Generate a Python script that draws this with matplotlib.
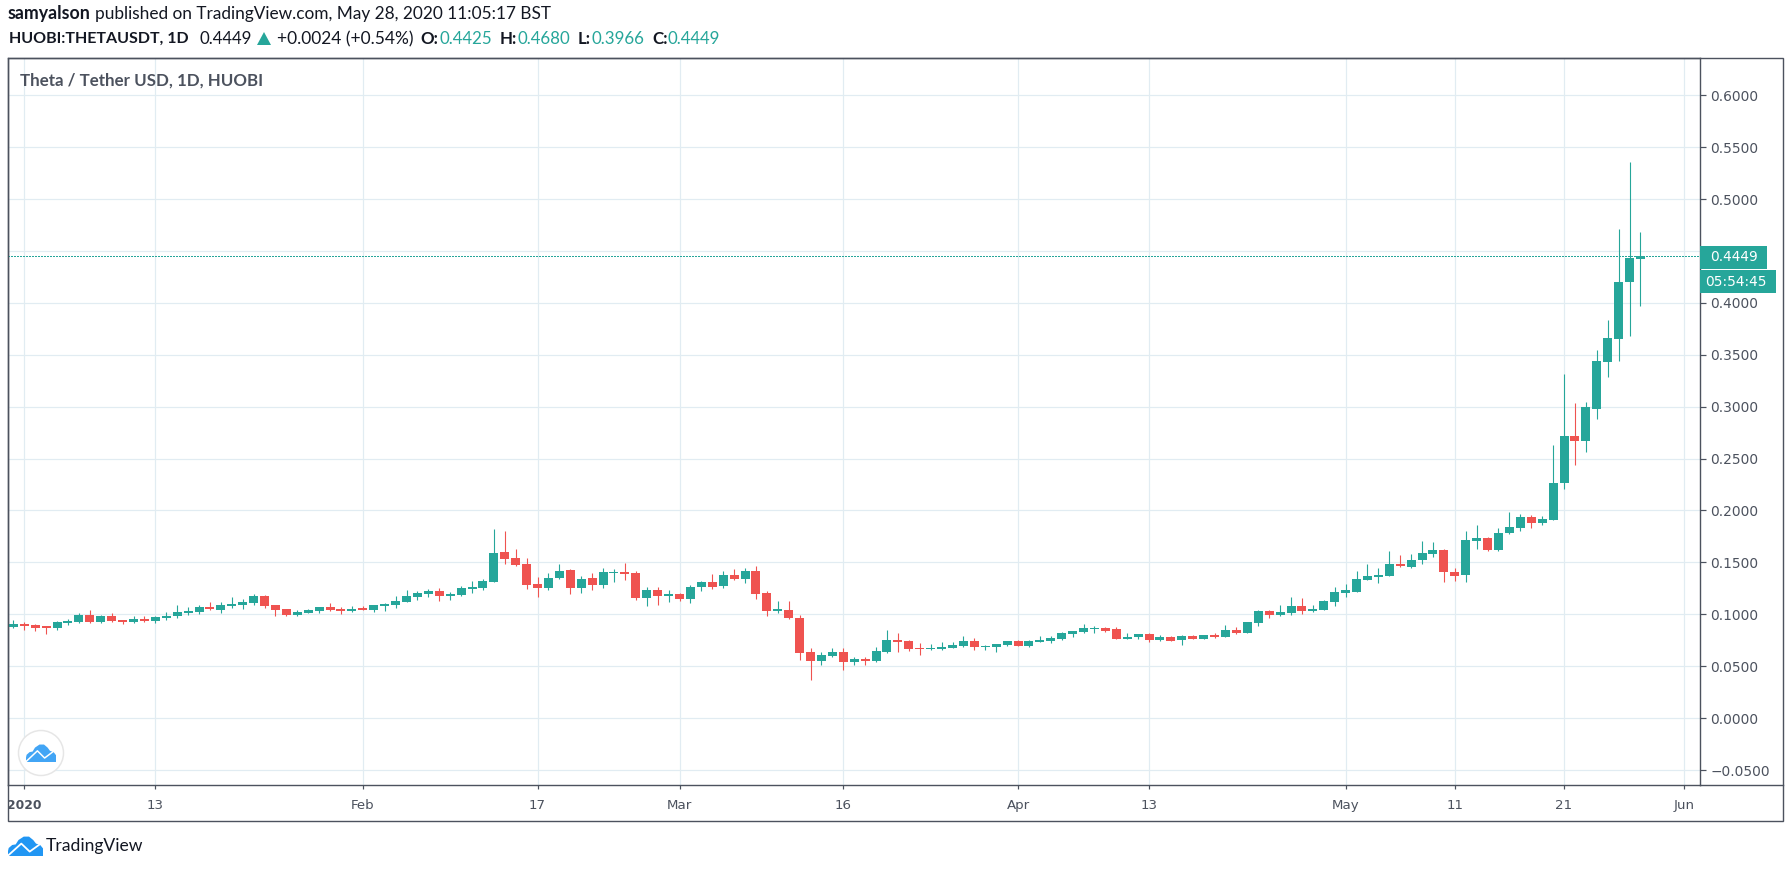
#!/usr/bin/env python3
"""Theta / Tether USD daily candles, TradingView style snapshot"""

import matplotlib
matplotlib.use("Agg")
import matplotlib.pyplot as plt
import matplotlib.dates as mdates
from matplotlib.patches import Circle, Polygon, Rectangle
import pandas as pd

# daily candles from 2019-12-31 to 2020-05-28
start_date = "2019-12-31"

opens = [
    .0878, .0907, .0897, .0887, .0868, .0916, .0926, .0994, .0926, .0984,
    .0945, .0926, .0955, .0936, .0965, .0984, .1013, .1023, .1071, .1042,
    .1080, .1090, .1109, .1177, .1090, .1051, .0994, .1013, .1032, .1071,
    .1051, .1032, .1061, .1042, .1080, .1090, .1119, .1167, .1196, .1225,
    .1177, .1186, .1244, .1254, .1312, .1601, .1543, .1485, .1293, .1254,
    .1350, .1428, .1254, .1350, .1283, .1402, .1408, .1399, .1158, .1235,
    .1177, .1196, .1148, .1264, .1312, .1273, .1379, .1341, .1418, .1206,
    .1032, .1042, .0965, .0637, .0550, .0598, .0637, .0540, .0569, .0550,
    .0637, .0752, .0743, .0675, .0666, .0666, .0675, .0695, .0743, .0685,
    .0685, .0704, .0743, .0695, .0733, .0743, .0762, .0810, .0830, .0859,
    .0868, .0859, .0762, .0781, .0810, .0752, .0781, .0752, .0791, .0762,
    .0801, .0781, .0849, .0820, .0916, .1032, .0994, .1013, .1080, .1032,
    .1042, .1119, .1206, .1215, .1331, .1360, .1370, .1485, .1457, .1524,
    .1582, .1620, .1408, .1379, .1707, .1736, .1620, .1782, .1830, .1936,
    .1878, .1907, .2263, .2715, .2667, .2974, .3432, .3655, .4197, .4425,
]
highs = [
    .0945, .0926, .0907, .0887, .0936, .0955, .1013, .1042, .0994, .1013,
    .0945, .0984, .0984, .0984, .1023, .1090, .1071, .1090, .1119, .1119,
    .1167, .1148, .1196, .1186, .1090, .1051, .1042, .1051, .1071, .1109,
    .1071, .1080, .1080, .1090, .1109, .1177, .1235, .1225, .1244, .1254,
    .1215, .1273, .1322, .1341, .1823, .1804, .1630, .1543, .1360, .1399,
    .1485, .1437, .1370, .1399, .1447, .1437, .1495, .1418, .1264, .1264,
    .1235, .1206, .1283, .1322, .1389, .1418, .1437, .1447, .1466, .1225,
    .1129, .1129, .0994, .0675, .0637, .0675, .0675, .0588, .0588, .0685,
    .0849, .0820, .0752, .0724, .0714, .0733, .0733, .0791, .0772, .0704,
    .0714, .0743, .0752, .0752, .0791, .0791, .0830, .0839, .0907, .0887,
    .0878, .0878, .0820, .0810, .0820, .0801, .0791, .0801, .0801, .0801,
    .0820, .0897, .0878, .0926, .1042, .1042, .1090, .1167, .1158, .1090,
    .1138, .1264, .1293, .1418, .1485, .1447, .1611, .1572, .1582, .1707,
    .1698, .1630, .1447, .1804, .1862, .1746, .1833, .1984, .1965, .1955,
    .1946, .2628, .3311, .3032, .3042, .3548, .3839, .4710, .5358, .4680,
]
lows = [
    .0868, .0849, .0839, .0810, .0849, .0897, .0916, .0916, .0916, .0926,
    .0907, .0916, .0926, .0916, .0945, .0965, .0994, .1003, .1042, .1013,
    .1061, .1051, .1090, .1061, .0984, .0984, .0984, .1013, .1013, .1032,
    .1003, .1023, .1042, .1023, .1032, .1061, .1119, .1138, .1167, .1129,
    .1138, .1177, .1206, .1235, .1312, .1485, .1466, .1244, .1167, .1235,
    .1341, .1196, .1206, .1235, .1254, .1312, .1331, .1138, .1080, .1090,
    .1119, .1129, .1109, .1225, .1244, .1254, .1331, .1302, .1148, .0984,
    .1013, .0955, .0560, .0367, .0511, .0588, .0463, .0511, .0511, .0540,
    .0627, .0637, .0646, .0608, .0656, .0656, .0675, .0685, .0656, .0656,
    .0637, .0695, .0695, .0685, .0733, .0724, .0752, .0781, .0820, .0820,
    .0830, .0762, .0762, .0762, .0733, .0743, .0743, .0704, .0762, .0762,
    .0772, .0781, .0810, .0820, .0887, .0965, .0984, .0994, .1003, .1023,
    .1042, .1080, .1167, .1215, .1331, .1302, .1370, .1457, .1447, .1485,
    .1553, .1312, .1322, .1312, .1630, .1611, .1611, .1773, .1801, .1830,
    .1859, .1907, .2205, .2436, .2561, .2878, .3287, .3442, .3684, .3966,
]
closes = [
    .0907, .0890, .0868, .0868, .0926, .0936, .0994, .0926, .0984, .0936,
    .0926, .0955, .0936, .0974, .0984, .1023, .1032, .1071, .1051, .1090,
    .1100, .1119, .1177, .1080, .1042, .0994, .1023, .1042, .1071, .1042,
    .1032, .1051, .1042, .1090, .1100, .1129, .1177, .1206, .1225, .1177,
    .1196, .1254, .1264, .1322, .1592, .1534, .1476, .1283, .1254, .1350,
    .1418, .1254, .1341, .1283, .1408, .1412, .1389, .1158, .1235, .1177,
    .1196, .1148, .1264, .1312, .1264, .1379, .1341, .1418, .1196, .1032,
    .1051, .0965, .0627, .0550, .0608, .0637, .0540, .0569, .0550, .0646,
    .0752, .0733, .0666, .0666, .0675, .0685, .0704, .0743, .0685, .0695,
    .0714, .0743, .0695, .0743, .0752, .0772, .0820, .0839, .0868, .0868,
    .0839, .0762, .0781, .0810, .0752, .0781, .0743, .0791, .0762, .0801,
    .0781, .0849, .0820, .0926, .1032, .0994, .1023, .1080, .1032, .1051,
    .1129, .1215, .1235, .1341, .1370, .1379, .1485, .1466, .1524, .1592,
    .1620, .1408, .1370, .1717, .1736, .1620, .1784, .1840, .1936, .1878,
    .1917, .2263, .2715, .2667, .2994, .3442, .3664, .4197, .4429, .4449,
]

y_ticks = [-0.05, 0.0, 0.05, 0.10, 0.15, 0.20, 0.25, 0.30, 0.35, 0.40, 0.45, 0.50, 0.55, 0.60]
x_tick_dates = ["2020-01-01", "2020-01-13", "2020-02-01", "2020-02-17", "2020-03-01", "2020-03-16",
                "2020-04-01", "2020-04-13", "2020-05-01", "2020-05-11", "2020-05-21", "2020-06-01"]
x_tick_labels = ["2020", "13", "Feb", "17", "Mar", "16", "Apr", "13", "May", "11", "21", "Jun"]

GREEN = "#26a69a"
RED = "#ef5350"
GRID = "#e1ecf2"
BORDER = "#4c525e"
DARK = "#131722"
W, H = 1792, 871
PX = 72 / 100  # one pixel in points at dpi 100

fig = plt.figure(figsize=(W / 100, H / 100), dpi=100, facecolor="white")

# price pane
ax = fig.add_axes([8.3 / W, 1 - 785.3 / H, (1699.5 - 8.3) / W, (785.3 - 58.3) / H])
dates = pd.date_range(start_date, periods=len(opens))
x = mdates.date2num(dates)
colors = [GREEN if c >= o else RED for o, c in zip(opens, closes)]
bottoms = [min(o, c) for o, c in zip(opens, closes)]
heights = [max(abs(c - o), 0.0006) for o, c in zip(opens, closes)]

ax.vlines(x, lows, highs, colors=colors, linewidth=1.1 * PX, zorder=3)
ax.bar(x, heights, bottom=bottoms, width=0.824, color=colors, linewidth=0, zorder=4)
ax.axhline(closes[-1], color=GREEN, linewidth=1.0 * PX, linestyle=(0, (2, 1.2)),
           antialiased=False, zorder=5)

jan1 = mdates.date2num(pd.Timestamp("2020-01-01"))
ax.set_xlim(jan1 + (8.3 - 24.3) / 10.92, jan1 + (1699.5 - 24.3) / 10.92)
ax.set_ylim(0.1 + (614.3 - 785.3) / 1038, 0.1 + (614.3 - 58.3) / 1038)

ax.set_xticks(mdates.date2num(pd.to_datetime(x_tick_dates)))
ax.set_xticklabels(x_tick_labels)
ax.set_yticks(y_ticks)
ax.set_yticklabels([f"{t:.4f}".replace("-", "\u2212") for t in y_ticks])
ax.yaxis.tick_right()
ax.grid(True, color=GRID, linewidth=1.2 * PX, zorder=0)
ax.set_axisbelow(True)
ax.tick_params(axis="y", length=6 * PX, width=1.2 * PX, color=BORDER, labelcolor=BORDER,
               labelsize=9.9, pad=5 * PX)
ax.tick_params(axis="x", length=4 * PX, width=1.2 * PX, color=BORDER, labelcolor=BORDER,
               labelsize=9.6, pad=10 * PX)
ax.get_xticklabels()[0].set_fontweight("bold")
ax.get_xticklabels()[0].set_fontsize(8.8)
for side in ax.spines:
    ax.spines[side].set_color(BORDER)
    ax.spines[side].set_linewidth(1.4 * PX)

# overlay in pixel coordinates for header, frame and logos
ov = fig.add_axes([0, 0, 1, 1], facecolor="none")
ov.set_xlim(0, W)
ov.set_ylim(H, 0)
ov.axis("off")

ov.add_patch(Rectangle((8.3, 58.3), 1783 - 8.3, 821 - 58.3, fill=False, edgecolor=BORDER, linewidth=1.4 * PX))
ov.plot([1699.5, 1783], [785.3, 785.3], color=BORDER, linewidth=1.4 * PX)


def label(px, py, s, color=DARK, weight="normal", size=12.2, family="Lato"):
    ov.text(px, py, s, color=color, fontweight=weight, fontsize=size, family=family,
            ha="left", va="center")


# header lines
label(8, 14, "samyalson", weight="bold", size=12.8)
label(95, 14, "published on TradingView.com, May 28, 2020 11:05:17 BST", size=12.4)
label(9, 39, "HUOBI:THETAUSDT, 1D", weight="bold", size=11.5)
label(199, 39, "0.4449")
ov.add_patch(Polygon([[257, 45], [271, 45], [264, 32]], color=GREEN, linewidth=0))
label(277, 39, "+0.0024 (+0.54%)", size=12.5)
for xa, xb, key, val in [(420, 439, "O:", opens[-1]), (500, 517, "H:", highs[-1]),
                         (578, 591, "L:", lows[-1]), (652, 667, "C:", closes[-1])]:
    label(xa, 39, key, weight="bold")
    label(xb, 39, f"{val:.4f}", color=GREEN)
label(20, 81, "Theta / Tether USD, 1D, HUOBI", color=BORDER, weight="bold")

# last price and countdown tags
ov.add_patch(Rectangle((1699.5, 246), 67, 22.7, color=GREEN, linewidth=0))
ov.add_patch(Rectangle((1699.5, 270), 76, 23, color=GREEN, linewidth=0))
label(1710, 257, f"{closes[-1]:.4f}", color="white", size=9.9, family="DejaVu Sans")
label(1704.7, 281.5, "05:54:45", color="white", size=9.9, family="DejaVu Sans")

# cloud shape, unit box with y running down
cloud = [(0, .75), (.02, .6), (.12, .45), (.22, .42), (.3, .2), (.45, .03), (.6, .03), (.72, .2),
         (.8, .38), (.92, .45), (1, .62), (1, 1), (.02, 1), (0, .9)]
zigzag = [(.0, .98), (.38, .38), (.62, .78), (1.0, .3)]


def logo(x0, y0, w, h, color, lw):
    ov.add_patch(Polygon([(x0 + a * w, y0 + b * h) for a, b in cloud], color=color, linewidth=0))
    ov.plot([x0 + a * w for a, b in zigzag], [y0 + b * h for a, b in zigzag], color="white", linewidth=lw)


ov.add_patch(Circle((41, 753), 22.5, facecolor="white", edgecolor="#e6e6e6", linewidth=1.5 * PX))
logo(26, 744, 30, 18, "#42a5f5", 1.5 * PX)
logo(8, 836, 35, 20, "#2196f3", 1.8 * PX)
label(46, 846, "TradingView", size=12.6)

fig.savefig("out.png", dpi=100)
